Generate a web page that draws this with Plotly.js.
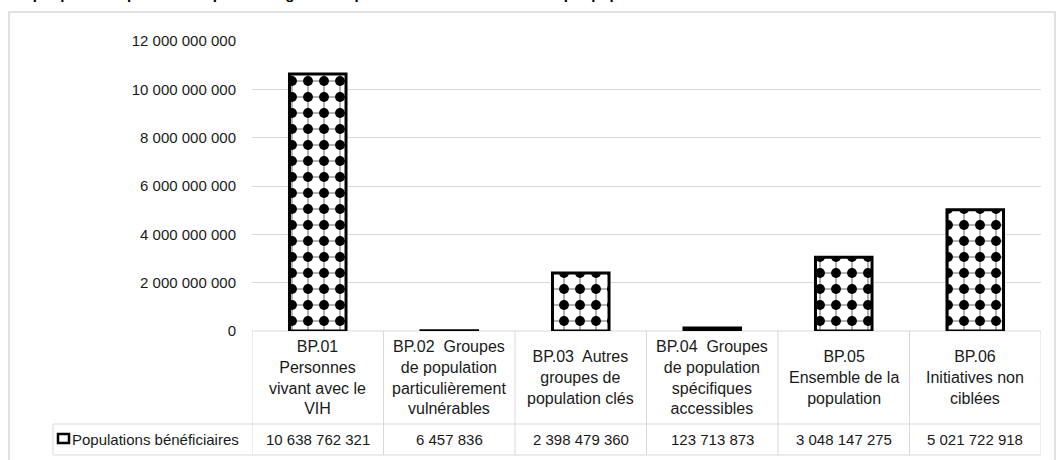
<!DOCTYPE html>
<html>
<head>
<meta charset="utf-8">
<script src="https://cdn.plot.ly/plotly-3.0.1.min.js"></script>
<style>html,body{margin:0;padding:0;background:#fff;}#chart{width:1057px;height:460px;}</style>
</head>
<body>
<div id="chart"></div>
<script>
// ---- data ----
const categories = ["BP.01", "BP.02", "BP.03", "BP.04", "BP.05", "BP.06"];
const categoryLabels = [
  "BP.01<br>Personnes<br>vivant avec le<br>VIH",
  "BP.02\u00a0 Groupes<br>de population<br>particulièrement<br>vulnérables",
  "BP.03\u00a0 Autres<br>groupes de<br>population clés",
  "BP.04\u00a0 Groupes<br>de population<br>spécifiques<br>accessibles",
  "BP.05<br>Ensemble de la<br>population",
  "BP.06<br>Initiatives non<br>ciblées"
];
const seriesName = "Populations bénéficiaires";
const values = [10638762321, 6457836, 2398479360, 123713873, 3048147275, 5021722918];
const yTicks = [0, 2000000000, 4000000000, 6000000000, 8000000000, 10000000000, 12000000000];
const titleText = "Graphique 9 : Répartition en pourcentage des dépenses de lutte contre le VIH par populations bénéficiaires en 2020";

// ---- helpers ----
const FONT = "Liberation Sans, Arial, sans-serif";
const TXT = "#1a1a1a";
const GRID = "#d9d9d9";
const L = 252, R = 1041, T = 41, B = 331;
const W = R - L, H = B - T;
const px = x => (x - L) / W;
const py = y => (B - y) / H;
const fmt = v => String(v).replace(/\B(?=(\d{3})+(?!\d))/g, " ");

const traces = [
  {
    type: "bar", x: categories, y: values, name: seriesName, width: 0.43,
    marker: {
      color: "white",
      line: {color: "black", width: 0},
      pattern: {shape: "+", fgcolor: "#444444", bgcolor: "white", size: 16, solidity: 0.1}
    },
    hoverinfo: "skip", showlegend: false
  },
  {
    type: "bar", x: categories, y: values, name: seriesName, width: 0.43,
    marker: {
      color: "rgba(0,0,0,0)",
      line: {color: "black", width: 3},
      pattern: {shape: ".", fgcolor: "black", bgcolor: "rgba(0,0,0,0)", size: 16, solidity: 0.3}
    },
    showlegend: false
  }
];

const shapes = [];
const line = {color: GRID, width: 1};
// outer chart border
shapes.push({type: "rect", xref: "paper", yref: "paper", x0: px(9), x1: px(1055), y0: py(475), y1: py(12), line: {color: GRID, width: 1.5}, layer: "below"});
// table horizontal lines
shapes.push({type: "line", xref: "paper", yref: "paper", x0: 0, x1: 1, y0: 0, y1: 0, line, layer: "below"});
shapes.push({type: "line", xref: "paper", yref: "paper", x0: px(53), x1: 1, y0: py(424), y1: py(424), line});
shapes.push({type: "line", xref: "paper", yref: "paper", x0: px(53), x1: 1, y0: py(455), y1: py(455), line});
// table vertical lines
for (let i = 0; i <= categories.length; i++) {
  shapes.push({type: "line", xref: "x", yref: "paper", x0: i - 0.5, x1: i - 0.5, y0: py(455), y1: 0, line});
}
shapes.push({type: "line", xref: "paper", yref: "paper", x0: px(53), x1: px(53), y0: py(455), y1: py(424), line});
// legend key
shapes.push({type: "rect", xref: "paper", yref: "paper", x0: px(58), x1: px(69), y0: py(443), y1: py(434), line: {color: "black", width: 2.5}, fillcolor: "white"});

const annotations = [];
categories.forEach((c, i) => {
  annotations.push({xref: "x", yref: "paper", x: c, y: py(377.5), yanchor: "middle", xanchor: "center", align: "center",
    text: categoryLabels[i], showarrow: false, font: {family: FONT, size: 16, color: TXT}});
  annotations.push({xref: "x", yref: "paper", x: c, y: py(439.5), yanchor: "middle", xanchor: "center",
    text: fmt(values[i]), showarrow: false, font: {family: FONT, size: 15, color: TXT}});
});
annotations.push({xref: "paper", yref: "paper", x: px(70), y: py(439.5), xanchor: "left", yanchor: "middle",
  text: seriesName, showarrow: false, font: {family: FONT, size: 15, color: TXT}});
annotations.push({xref: "paper", yref: "paper", x: px(5), y: py(4), xanchor: "left", yanchor: "bottom",
  text: "<b>" + titleText + "</b>", showarrow: false, font: {family: FONT, size: 15, color: "#000"}});

const layout = {
  width: 1057, height: 460,
  margin: {l: L, r: 1057 - R, t: T, b: 460 - B, pad: 0},
  paper_bgcolor: "white", plot_bgcolor: "white",
  separators: ", ",
  barmode: "overlay",
  showlegend: false,
  font: {family: FONT, size: 15, color: TXT},
  xaxis: {type: "category", range: [-0.5, 5.5], showticklabels: false, showgrid: false, zeroline: false, showline: false, ticks: "", fixedrange: true},
  yaxis: {range: [0, 12000000000], tickvals: yTicks, ticktext: yTicks.map(fmt), showgrid: true, gridcolor: GRID, gridwidth: 1,
    zeroline: false, showline: false, ticks: "", ticklabelstandoff: 15, tickfont: {family: FONT, size: 15, color: TXT}, fixedrange: true},
  shapes, annotations
};

Plotly.newPlot("chart", traces, layout, {displayModeBar: false, staticPlot: true});
</script>
</body>
</html>
